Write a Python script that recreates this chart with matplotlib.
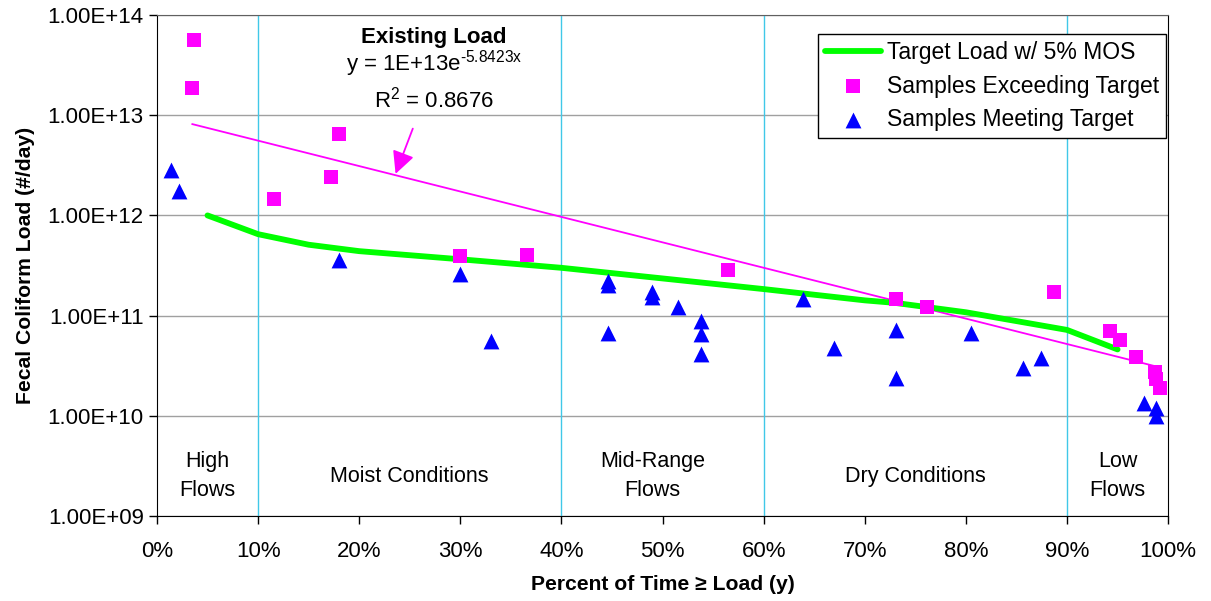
import numpy as np
import matplotlib
matplotlib.use('Agg')
import matplotlib.pyplot as plt
from matplotlib.ticker import FixedLocator, FuncFormatter

plt.rcParams['font.family'] = ['Liberation Sans', 'DejaVu Sans']

# Target load curve (percent of time, #/day)
target_x = [5, 10, 15, 20, 30, 40, 50, 60, 70, 73, 80, 90, 95]
target_y = [1.0e12, 6.5e11, 5.1e11, 4.4e11, 3.65e11, 3.0e11, 2.35e11, 1.84e11,
            1.42e11, 1.34e11, 1.08e11, 7.2e10, 4.6e10]

# Samples exceeding target
exceed_x = [3.66, 3.5, 11.6, 17.2, 18.0, 30.0, 36.6, 56.5, 73.1, 76.2, 88.7,
            94.3, 95.2, 96.8, 98.7, 98.8, 99.2]
exceed_y = [5.6e13, 1.85e13, 1.45e12, 2.4e12, 6.45e12, 3.94e11, 4.0e11, 2.85e11,
            1.48e11, 1.21e11, 1.72e11, 7.0e10, 5.7e10, 3.9e10, 2.75e10, 2.33e10,
            1.88e10]

# Samples meeting target
meet_x = [1.38, 2.2, 18.0, 30.0, 33.0, 44.6, 44.6, 44.6, 49.0, 49.0, 51.5,
          53.8, 53.8, 53.8, 63.9, 67.0, 73.1, 73.1, 80.5, 85.6, 87.4, 97.6,
          98.8, 98.8]
meet_y = [2.84e12, 1.77e12, 3.59e11, 2.6e11, 5.6e10, 2.2e11, 2.0e11, 6.75e10,
          1.73e11, 1.54e11, 1.23e11, 8.9e10, 6.5e10, 4.1e10, 1.48e11, 4.8e10,
          7.2e10, 2.4e10, 6.65e10, 2.98e10, 3.8e10, 1.35e10, 1.19e10, 1.0e10]

# Existing load trendline: y = a * exp(b * x), x as fraction
trend_a = 1e13
trend_b = -5.8423
trend_r2 = 0.8676

regions = ['High\nFlows', 'Moist Conditions', 'Mid-Range\nFlows', 'Dry Conditions', 'Low\nFlows']
region_x = [5, 25, 49, 75, 95]
region_bounds = [10, 40, 60, 90]

MAGENTA = '#ff00ff'
BLUE = '#0000ff'
GREEN = '#00ff00'

fig = plt.figure(figsize=(12.11, 6.01), dpi=100)
ax = fig.add_axes([0.1296, 0.1414, 0.835, 0.8336])

for v in region_bounds:
    ax.axvline(v, color='#40c8e8', lw=1, zorder=1)

ax.plot(target_x, target_y, color=GREEN, lw=4.2, solid_capstyle='round',
        label='Target Load w/ 5% MOS', zorder=3)

tx = np.array([min(exceed_x), max(exceed_x)])
ax.plot(tx, trend_a * np.exp(trend_b * tx / 100), color=MAGENTA, lw=1.3, zorder=2)

ax.scatter(exceed_x, exceed_y, marker='s', s=115, color=MAGENTA, linewidths=0,
           label='Samples Exceeding Target', zorder=4)
ax.scatter(meet_x, meet_y, marker='^', s=130, color=BLUE, linewidths=0,
           label='Samples Meeting Target', zorder=4)

ax.set_yscale('log')
ax.set_ylim(1e9, 1e14)
ax.set_xlim(0, 100)
ax.yaxis.set_major_locator(FixedLocator([10.0**k for k in range(9, 15)]))
ax.yaxis.set_minor_locator(FixedLocator([]))
ax.yaxis.set_major_formatter(FuncFormatter(lambda v, p: '1.00E+%02d' % round(np.log10(v))))
ax.set_xticks(range(0, 101, 10))
ax.xaxis.set_major_formatter(FuncFormatter(lambda v, p: '%d%%' % v))
ax.grid(axis='y', color='#a0a0a0', lw=1)
ax.set_axisbelow(True)
ax.tick_params(direction='out', length=6, width=1, labelsize=16, color='black')
ax.tick_params(axis='x', pad=12)
for s in ['left', 'bottom', 'right']:
    ax.spines[s].set_color('black')
ax.spines['top'].set_color('#606060')

ax.set_ylabel('Fecal Coliform Load (#/day)', fontsize=15.2, fontweight='bold', labelpad=9)
ax.set_xlabel('Percent of Time ≥ Load (y)', fontsize=15.2, fontweight='bold', labelpad=9)

for lbl, x in zip(regions, region_x):
    ax.text(x, 2.5e9, lbl, ha='center', va='center', fontsize=15.5, linespacing=1.5)

ax.text(27.4, 6.0e13, 'Existing Load', ha='center', va='center', fontsize=16, fontweight='bold')
ax.text(27.4, 3.3e13, 'y = 1E+13e$\\mathregular{^{\u2010%.4fx}}$' % -trend_b,
        ha='center', va='center', fontsize=16)
ax.text(27.4, 1.45e13, r'R$\mathregular{^2}$ = %.4f' % trend_r2, ha='center', va='center', fontsize=16)
ax.annotate('', xy=(23.5, 2.45e12), xytext=(25.4, 7.8e12),
            arrowprops=dict(arrowstyle='-|>', color=MAGENTA, lw=1.3, mutation_scale=34))

leg = ax.legend(loc='upper right', bbox_to_anchor=(1.0, 1 - 17 / 501), fontsize=16.5,
                frameon=True, fancybox=False, edgecolor='black', framealpha=1,
                borderaxespad=0.1, handlelength=2.45, handletextpad=0.25,
                borderpad=0.3, labelspacing=0.45)
leg.get_frame().set_linewidth(1)

fig.savefig('out.png', dpi=100)
